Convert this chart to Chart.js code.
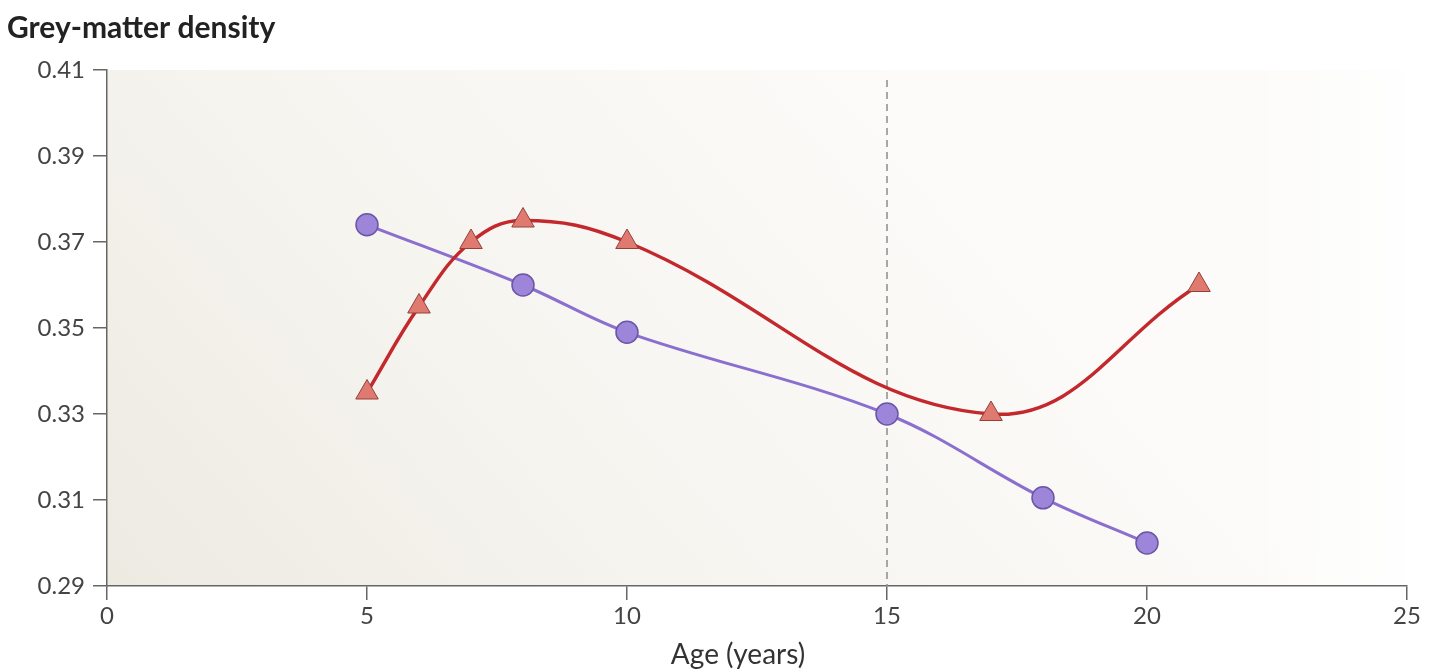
<!DOCTYPE html>
<html>
<head>
<meta charset="utf-8">
<title>Grey-matter density</title>
<script src="https://cdn.jsdelivr.net/npm/chart.js@4.4.1/dist/chart.umd.min.js"></script>
<style>
    html, body { margin: 0; padding: 0; background: #ffffff; }
    #wrap { width: 1441px; height: 672px; position: relative; }
</style>
</head>
<body>
<div id="wrap"><canvas id="density-chart"></canvas></div>
<script>
const chartTitle = 'Grey-matter density';
const xTitle = 'Age (years)';

const purpleAges = [5, 8, 10, 15, 18, 20];
const purpleDensity = [0.374, 0.360, 0.349, 0.330, 0.3105, 0.300];

const redAges = [5, 6, 7, 8, 10, 17, 21];
const redDensity = [0.335, 0.355, 0.370, 0.375, 0.370, 0.330, 0.360];

const markerAge = 15;
const markerRange = [0.4077, 0.29];

const xTicks = [0, 5, 10, 15, 20, 25];
const yTicks = [0.29, 0.31, 0.33, 0.35, 0.37, 0.39, 0.41];

const fontFamily = 'Lato, "Open Sans", sans-serif';

const toPoints = (xs, ys) => xs.map((x, i) => ({ x: x, y: ys[i] }));

// soft beige wash, darker toward bottom-left
const backgroundPlugin = {
    id: 'plotBackground',
    beforeDraw: (chart) => {
        const { ctx, chartArea } = chart;
        const w = chartArea.right - chartArea.left;
        const h = chartArea.bottom - chartArea.top;
        const g = ctx.createLinearGradient(chartArea.left, chartArea.bottom, chartArea.left + 700, chartArea.top - 100);
        g.addColorStop(0, '#edeae2');
        g.addColorStop(0.45, '#f6f4ef');
        g.addColorStop(1, '#fcfbf9');
        ctx.save();
        ctx.fillStyle = g;
        ctx.fillRect(chartArea.left, chartArea.top, w, h);
        const fade = ctx.createLinearGradient(chartArea.right - 160, 0, chartArea.right, 0);
        fade.addColorStop(0, 'rgba(255,255,255,0)');
        fade.addColorStop(1, 'rgba(255,255,255,0.9)');
        ctx.fillStyle = fade;
        ctx.fillRect(chartArea.right - 160, chartArea.top, 160, h);
        ctx.restore();
    }
};

const titlePlugin = {
    id: 'titles',
    afterDraw: (chart) => {
        const ctx = chart.ctx;
        ctx.save();
        ctx.textBaseline = 'middle';
        ctx.fillStyle = '#222222';
        ctx.font = `bold 30px ${fontFamily}`;
        ctx.textAlign = 'left';
        ctx.fillText(chartTitle, 7, 28);
        ctx.fillStyle = '#333333';
        ctx.font = `28px ${fontFamily}`;
        ctx.textAlign = 'center';
        ctx.fillText(xTitle, 738, 655);
        ctx.restore();
    }
};

const ctx = document.getElementById('density-chart').getContext('2d');
new Chart(ctx, {
    type: 'line',
    data: {
        datasets: [
            {
                label: 'Red',
                data: toPoints(redAges, redDensity),
                borderColor: '#c3282d',
                borderWidth: 3.5,
                tension: 0.4,
                pointStyle: 'triangle',
                pointRadius: 13,
                pointBackgroundColor: '#e07a71',
                pointBorderColor: '#93403b',
                pointBorderWidth: 1
            },
            {
                label: 'Purple',
                data: toPoints(purpleAges, purpleDensity),
                borderColor: '#8a6fcf',
                borderWidth: 3,
                tension: 0.35,
                pointStyle: 'circle',
                pointRadius: 11,
                pointBackgroundColor: '#9d85d9',
                pointBorderColor: '#6a55a6',
                pointBorderWidth: 1.5
            },
            {
                label: 'Marker',
                data: markerRange.map(y => ({ x: markerAge, y: y })),
                borderColor: '#8c8c8c',
                borderWidth: 1.5,
                borderDash: [7, 5],
                pointRadius: 0
            }
        ]
    },
    options: {
        responsive: true,
        maintainAspectRatio: false,
        animation: false,
        layout: {
            padding: { top: 70, right: 34, left: 0, bottom: 0 }
        },
        plugins: {
            legend: { display: false },
            tooltip: { enabled: false }
        },
        scales: {
            x: {
                type: 'linear',
                min: 0,
                max: 25,
                afterBuildTicks: (scale) => { scale.ticks = xTicks.map(v => ({ value: v })); },
                afterFit: (scale) => { scale.height = 86; },
                grid: {
                    drawOnChartArea: false,
                    tickLength: 14,
                    color: '#666666',
                    lineWidth: 1.5
                },
                border: { color: '#666666', width: 1.5 },
                ticks: {
                    color: '#444444',
                    padding: 2,
                    font: { family: fontFamily, size: 24 }
                }
            },
            y: {
                min: 0.29,
                max: 0.41,
                afterBuildTicks: (scale) => { scale.ticks = yTicks.map(v => ({ value: v })); },
                afterFit: (scale) => { scale.width = 107; },
                grid: {
                    drawOnChartArea: false,
                    tickLength: 14,
                    color: '#666666',
                    lineWidth: 1.5
                },
                border: { color: '#666666', width: 1.5 },
                ticks: {
                    color: '#444444',
                    padding: 8,
                    callback: (v) => v.toFixed(2),
                    font: { family: fontFamily, size: 24 }
                }
            }
        }
    },
    plugins: [backgroundPlugin, titlePlugin]
});
</script>
</body>
</html>
